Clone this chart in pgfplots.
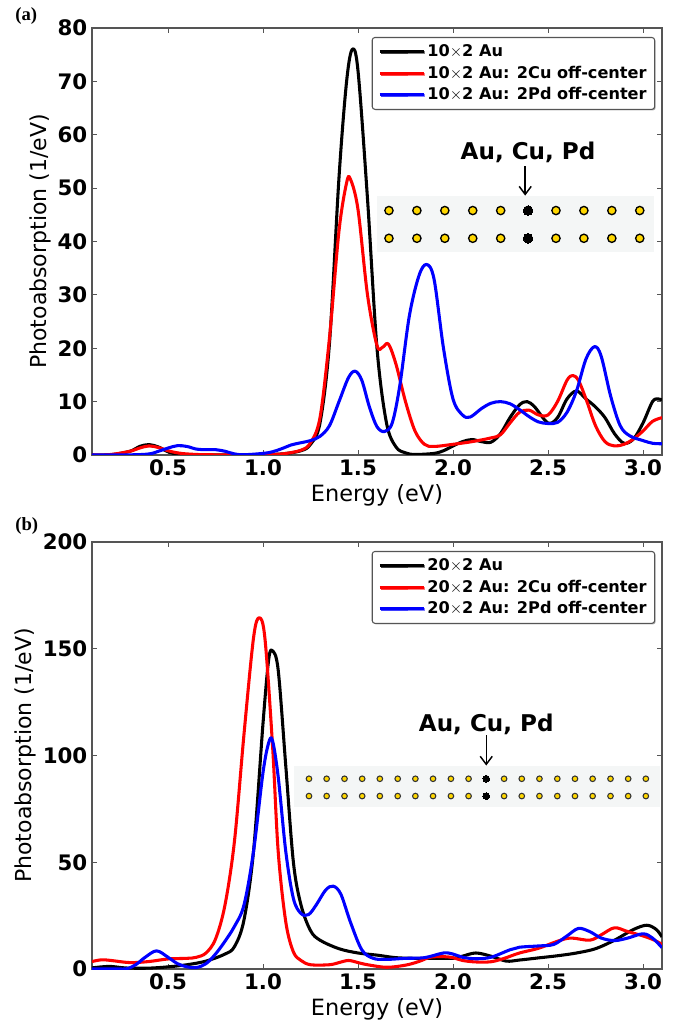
\documentclass[border=0pt]{standalone}
\usepackage{fontspec}
\setmainfont{DejaVu Sans}
\newfontfamily\panelfont{Liberation Serif}
\usepackage{pgfplots}
\pgfplotsset{compat=1.18}
\usetikzlibrary{shadows,arrows.meta}

\definecolor{spine}{HTML}{555555}
\definecolor{bandbg}{HTML}{F4F6F6}
\definecolor{atomau}{HTML}{FFD700}

\pgfplotsset{
  panel/.style={
    scale only axis,
    width=427.5pt, height=320.25pt,
    anchor=south west,
    xmin=0.1, xmax=3.1,
    xtick={0.5,1.0,1.5,2.0,2.5,3.0},
    axis line style={draw=spine, line width=1pt},
    tick style={draw=spine, line width=0.6pt},
    major tick length=4pt,
    tick align=inside,
    xtick pos=both, ytick pos=both,
    /pgf/number format/assume math mode=true,
    tick label style={font=\fontsize{16}{18}\selectfont\bfseries},
    x tick label style={/pgf/number format/.cd, fixed, fixed zerofill, precision=1},
    y tick label style={/pgf/number format/fixed},
    xlabel style={font=\fontsize{16.8}{18}\selectfont},
    ylabel style={font=\fontsize{16.5}{18}\selectfont},
    ylabel shift=-2pt,
    xlabel={Energy (eV)},
    ylabel={Photoabsorption (1/eV)},
    legend cell align=left,
    legend style={
      at={(0.988,0.979)}, anchor=north east,
      draw=spine, line width=0.8pt, fill=white, rounded corners=2pt,
      drop shadow={shadow xshift=0.8pt, shadow yshift=-0.8pt, fill=black!60},
      font=\fontsize{12.1}{14}\selectfont\bfseries,
      row sep=2.5pt,
      inner xsep=4.5pt, inner ysep=4pt,
      nodes={inner sep=1.5pt},
    },
    legend image code/.code={
      \path (0pt,0pt) -- (33pt,0pt);
      \draw[line width=2.2pt] (0pt,0pt) -- (20pt,0pt);
    },
  },
  curve/.style={line width=2.3pt, line join=round, smooth, tension=0.55},
  atoms/.style={only marks, forget plot, mark=*, mark size=#1},
}

\begin{document}
\begin{tikzpicture}[x=1pt,y=1pt]
\useasboundingbox (0,0) rectangle (513,769.5);

% panel a
\begin{axis}[panel, at={(69pt,428.25pt)}, ymin=0, ymax=80, ytick={0,10,...,80}]
\addplot[black, curve] coordinates {
 (0.1,0)(0.2,0.05)(0.3,0.7)(0.35,1.6)(0.4,1.95)(0.45,1.5)(0.5,0.6)(0.55,0.15)(0.6,0.05)(0.8,0)
 (1.0,0.1)(1.1,0.2)(1.2,0.8)(1.25,2)(1.3,6)(1.35,21)(1.4,52)(1.44,70)(1.47,76)(1.5,72)
 (1.55,48)(1.6,20)(1.65,6)(1.7,1.5)(1.75,0.4)(1.8,0.1)(1.9,0.3)(1.95,0.8)(2.0,1.7)(2.05,2.5)
 (2.1,2.9)(2.15,2.5)(2.2,2.4)(2.25,4)(2.3,7)(2.35,9.4)(2.39,10)(2.43,9)(2.5,6)(2.55,7)
 (2.6,10.5)(2.65,12)(2.7,10.5)(2.75,9)(2.8,7)(2.85,4)(2.9,2.2)(2.95,3)(3.0,6)(3.05,10)(3.08,10.5)(3.1,10.3)
};
\addlegendentry{10$\times$2 Au}
\addplot[red, curve] coordinates {
 (0.1,0)(0.2,0.1)(0.3,0.7)(0.35,1.3)(0.4,1.7)(0.45,1.4)(0.5,0.8)(0.55,0.4)(0.6,0.2)(0.7,0.05)
 (0.9,0.05)(1.0,0.1)(1.1,0.2)(1.2,0.9)(1.25,2.3)(1.3,7)(1.35,22)(1.4,42)(1.44,51)(1.46,51.7)
 (1.5,46)(1.55,30)(1.6,20.5)(1.63,20.2)(1.66,20.8)(1.7,17)(1.75,10)(1.8,4.5)(1.85,2)(1.9,1.6)
 (2.0,2)(2.1,2.5)(2.2,3.2)(2.25,3.8)(2.3,6)(2.35,8)(2.4,8.4)(2.45,7.5)(2.5,7.5)(2.55,10)
 (2.6,14)(2.63,14.9)(2.66,14)(2.7,10.5)(2.75,5.5)(2.8,2.5)(2.85,1.7)(2.9,2)(2.95,3)(3.0,4.5)(3.05,6.3)(3.1,7)
};
\addlegendentry{10$\times$2 Au: 2Cu off-center}
\addplot[blue, curve] coordinates {
 (0.1,0)(0.3,0.03)(0.4,0.2)(0.45,0.7)(0.5,1.3)(0.55,1.75)(0.6,1.6)(0.65,1.1)(0.7,1)(0.75,1)
 (0.8,0.7)(0.85,0.2)(0.9,0.05)(1.0,0.3)(1.05,0.6)(1.1,1.2)(1.15,1.9)(1.2,2.3)(1.25,2.7)(1.3,3.5)
 (1.35,5.5)(1.4,10)(1.45,14.5)(1.485,15.7)(1.52,14)(1.56,9)(1.6,5.3)(1.64,4.4)(1.68,6)(1.72,13)
 (1.77,26)(1.82,33.5)(1.86,35.7)(1.9,33)(1.95,20)(2.0,10.5)(2.05,7.5)(2.09,7.1)(2.15,8.7)(2.2,9.7)
 (2.25,10)(2.3,9.6)(2.35,8.5)(2.4,7.2)(2.45,6.2)(2.5,5.9)(2.55,6.1)(2.6,8)(2.65,12)(2.7,18)
 (2.745,20.3)(2.78,18.5)(2.83,11)(2.88,5.5)(2.93,3.6)(3.0,2.7)(3.05,2.2)(3.1,2.1)
};
\addlegendentry{10$\times$2 Au: 2Pd off-center}
% chain inset
\addplot[forget plot, fill=bandbg, draw=none] coordinates {(1.6,38.1)(3.058,38.1)(3.058,48.58)(1.6,48.58)} --cycle;
\addplot[atoms=3.1pt, mark options={fill=atomau, draw=black, line width=1pt}] coordinates {
 (1.663,45.8)(1.810,45.8)(1.957,45.8)(2.104,45.8)(2.251,45.8)(2.542,45.8)(2.689,45.8)(2.836,45.8)(2.983,45.8)
 (1.663,40.6)(1.810,40.6)(1.957,40.6)(2.104,40.6)(2.251,40.6)(2.542,40.6)(2.689,40.6)(2.836,40.6)(2.983,40.6)
};
\addplot[atoms=3.6pt, mark options={fill=black, draw=black, line width=0pt}] coordinates {(2.395,45.8)(2.395,40.6)};
\node[font=\fontsize{17.3}{20}\selectfont\bfseries] at (axis cs:2.395,56.7) {Au, Cu, Pd};
\draw[-{Straight Barb[length=6pt,width=9pt]}, line width=1.1pt] (axis cs:2.38,54.1) -- (axis cs:2.38,48.6);
\end{axis}

% panel b
\begin{axis}[panel, at={(69pt,42.75pt)}, ymin=0, ymax=200, ytick={0,50,...,200}]
\addplot[black, curve] coordinates {
 (0.1,0.5)(0.15,1)(0.2,1.2)(0.25,0.7)(0.3,0.4)(0.4,0.4)(0.5,1)(0.6,2)(0.7,3.7)(0.8,7)
 (0.85,10.5)(0.9,23)(0.95,55)(1.0,115)(1.03,145)(1.05,149)(1.08,140)(1.12,95)(1.16,50)(1.2,30)
 (1.25,18)(1.3,13.5)(1.4,9.5)(1.5,7.5)(1.6,6.5)(1.7,5.3)(1.8,5)(1.9,5)(2.0,5)(2.05,6)
 (2.12,7.5)(2.2,6)(2.28,3.7)(2.35,4.2)(2.45,5.2)(2.55,6.2)(2.65,7.5)(2.75,9.5)(2.85,13.5)(2.95,18.5)
 (3.02,20.5)(3.07,18.5)(3.1,15)
};
\addlegendentry{20$\times$2 Au}
\addplot[red, curve] coordinates {
 (0.1,3.5)(0.15,4.3)(0.2,4)(0.3,3)(0.4,3.5)(0.5,4.7)(0.6,5)(0.65,5.5)(0.7,7.5)(0.75,14)
 (0.8,30)(0.85,60)(0.9,110)(0.95,155)(0.98,164.5)(1.01,155)(1.05,105)(1.08,55)(1.12,22)(1.16,8)
 (1.2,4)(1.25,2)(1.35,2)(1.4,3)(1.45,4)(1.5,3)(1.55,2)(1.65,0.8)(1.75,1.8)(1.82,3.5)
 (1.88,5.5)(1.95,5.8)(2.0,5.3)(2.05,4)(2.12,3.3)(2.2,3.4)(2.27,5)(2.35,7.5)(2.45,9.7)(2.55,13)
 (2.62,14.5)(2.72,13.5)(2.78,16)(2.85,19.3)(2.92,17.5)(3.0,15.5)(3.06,13.5)(3.1,11.5)
};
\addlegendentry{20$\times$2 Au: 2Cu off-center}
\addplot[blue, curve] coordinates {
 (0.1,0)(0.2,0.1)(0.28,0.1)(0.33,2)(0.38,5.5)(0.44,8.5)(0.5,5.5)(0.55,2.5)(0.6,1)(0.65,0.7)
 (0.7,2.5)(0.75,7)(0.8,13)(0.85,20)(0.9,30)(0.95,55)(1.0,92)(1.03,106)(1.05,107)(1.08,90)
 (1.12,55)(1.16,33)(1.2,26)(1.24,25.5)(1.28,30)(1.33,37)(1.37,38.8)(1.41,35)(1.46,22)(1.52,9)
 (1.58,5)(1.65,4.5)(1.75,5)(1.85,5.3)(1.95,7.5)(2.0,7)(2.05,5.5)(2.12,4.8)(2.2,5.5)(2.3,9)
 (2.35,10.2)(2.45,10.8)(2.53,11.5)(2.6,15.5)(2.66,19)(2.72,17.5)(2.78,14.5)(2.85,13.3)(2.92,14.5)(3.0,16.5)
 (3.05,14.5)(3.1,10)
};
\addlegendentry{20$\times$2 Au: 2Pd off-center}
% chain inset
\addplot[forget plot, fill=bandbg, draw=none] coordinates {(1.163,76)(3.089,76)(3.089,95.2)(1.163,95.2)} --cycle;
\addplot[atoms=2.1pt, mark options={fill=atomau, draw=black!80, line width=0.8pt}] coordinates {
 (1.242,89.1)(1.335,89.1)(1.429,89.1)(1.522,89.1)(1.615,89.1)(1.709,89.1)(1.802,89.1)(1.895,89.1)(1.989,89.1)(2.082,89.1)
 (2.269,89.1)(2.362,89.1)(2.455,89.1)(2.549,89.1)(2.642,89.1)(2.735,89.1)(2.829,89.1)(2.922,89.1)(3.015,89.1)
 (1.242,81)(1.335,81)(1.429,81)(1.522,81)(1.615,81)(1.709,81)(1.802,81)(1.895,81)(1.989,81)(2.082,81)
 (2.269,81)(2.362,81)(2.455,81)(2.549,81)(2.642,81)(2.735,81)(2.829,81)(2.922,81)(3.015,81)
};
\addplot[atoms=2.5pt, mark options={fill=black, draw=black, line width=0pt}] coordinates {(2.175,89.1)(2.175,81)};
\node[font=\fontsize{17.3}{20}\selectfont\bfseries] at (axis cs:2.175,114.5) {Au, Cu, Pd};
\draw[-{Straight Barb[length=6pt,width=9pt]}, line width=1.1pt] (axis cs:2.175,109.5) -- (axis cs:2.175,95.3);
\end{axis}

\node[font=\panelfont\fontsize{14}{16}\selectfont\bfseries, anchor=west] at (8pt,757.5pt) {(a)};
\node[font=\panelfont\fontsize{14}{16}\selectfont\bfseries, anchor=west] at (8pt,375pt) {(b)};
\end{tikzpicture}
\end{document}
